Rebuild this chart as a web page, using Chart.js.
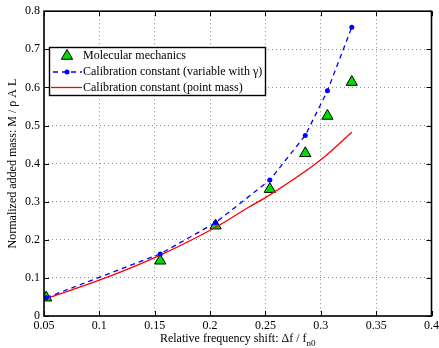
<!DOCTYPE html>
<html>
<head>
<meta charset="utf-8">
<script src="https://cdn.jsdelivr.net/npm/chart.js@4.4.0/dist/chart.umd.min.js"></script>
<style>
  html, body { margin: 0; padding: 0; background: #fff; }
  #wrap { width: 439px; height: 348px; position: relative; }
</style>
</head>
<body>
<div id="wrap"><canvas id="chart"></canvas></div>
<script>
// ── datos ──
const xTicks = [0.05, 0.1, 0.15, 0.2, 0.25, 0.3, 0.35, 0.4];
const yTicks = [0, 0.1, 0.2, 0.3, 0.4, 0.5, 0.6, 0.7, 0.8];

const mmX = [0.052, 0.155, 0.205, 0.254, 0.286, 0.306, 0.328];
const mmY = [0.048, 0.145, 0.237, 0.333, 0.427, 0.525, 0.614];

const varX = [0.052, 0.155, 0.205, 0.254, 0.286, 0.306, 0.328];
const varY = [0.048, 0.163, 0.245, 0.357, 0.474, 0.591, 0.758];

const pmX = [0.052, 0.1, 0.155, 0.205, 0.234, 0.254, 0.3, 0.328];
const pmY = [0.046, 0.094, 0.16, 0.233, 0.284, 0.318, 0.41, 0.482];

const labels = [
  'Molecular mechanics',
  'Calibration constant (variable with \u03b3)',
  'Calibration constant (point mass)'
];

const FONT = "'Liberation Serif', 'DejaVu Serif', serif";
const GREEN = '#00dd00';
const BLUE = '#0000ff';
const RED = '#ff0000';

const toPts = (xs, ys) => xs.map((x, i) => ({ x, y: ys[i] }));
const fmt = v => String(+v.toFixed(2));

// Marco, ticks interiores, leyenda y titulos de ejes
const decor = {
  id: 'decor',
  afterDatasetsDraw(chart) {
    const { ctx, chartArea: a, scales } = chart;
    ctx.save();
    ctx.strokeStyle = '#000';
    ctx.lineWidth = 1;
    const tl = 5;
    xTicks.forEach(v => {
      const px = Math.round(scales.x.getPixelForValue(v)) + 0.5;
      ctx.beginPath();
      ctx.moveTo(px, a.bottom); ctx.lineTo(px, a.bottom - tl);
      ctx.moveTo(px, a.top); ctx.lineTo(px, a.top + tl);
      ctx.stroke();
    });
    yTicks.forEach(v => {
      const py = Math.round(scales.y.getPixelForValue(v)) + 0.5;
      ctx.beginPath();
      ctx.moveTo(a.left, py); ctx.lineTo(a.left + tl, py);
      ctx.moveTo(a.right, py); ctx.lineTo(a.right - tl, py);
      ctx.stroke();
    });
    ctx.lineWidth = 1.6;
    ctx.strokeRect(a.left, a.top, a.right - a.left, a.bottom - a.top);

    // leyenda
    const lx = 49.5, ly = 47.5, lw = 216, lh = 48;
    ctx.fillStyle = '#fff';
    ctx.fillRect(lx, ly, lw, lh);
    ctx.lineWidth = 1.4;
    ctx.strokeRect(lx, ly, lw, lh);
    const rows = [56, 72, 87.5];
    const tx = 83;
    // triangulo
    const r = 6.5;
    ctx.beginPath();
    ctx.moveTo(67, rows[0] - r);
    ctx.lineTo(67 + r * 0.866, rows[0] + r * 0.5);
    ctx.lineTo(67 - r * 0.866, rows[0] + r * 0.5);
    ctx.closePath();
    ctx.fillStyle = GREEN; ctx.fill();
    ctx.lineWidth = 1; ctx.strokeStyle = '#000'; ctx.stroke();
    // linea azul discontinua
    ctx.strokeStyle = BLUE; ctx.lineWidth = 1.3;
    ctx.setLineDash([5, 4]);
    ctx.beginPath(); ctx.moveTo(53, rows[1]); ctx.lineTo(82, rows[1]); ctx.stroke();
    ctx.setLineDash([]);
    ctx.fillStyle = BLUE;
    ctx.beginPath(); ctx.arc(67, rows[1], 2.5, 0, Math.PI * 2); ctx.fill();
    // linea roja
    ctx.strokeStyle = RED; ctx.lineWidth = 1.3;
    ctx.beginPath(); ctx.moveTo(51, rows[2]); ctx.lineTo(82, rows[2]); ctx.stroke();

    ctx.fillStyle = '#000';
    ctx.font = '12px ' + FONT;
    ctx.textBaseline = 'middle';
    ctx.textAlign = 'left';
    labels.forEach((t, i) => ctx.fillText(t, tx, rows[i]));

    // titulo eje x con subindice
    const cx = (a.left + a.right) / 2;
    const main = 'Relative frequency shift: \u0394f / f';
    ctx.font = '12px ' + FONT;
    const w1 = ctx.measureText(main).width;
    ctx.font = '9px ' + FONT;
    const w2 = ctx.measureText('n0').width;
    let x0 = cx - (w1 + w2) / 2;
    ctx.textBaseline = 'alphabetic';
    ctx.font = '12px ' + FONT;
    ctx.fillText(main, x0, 342);
    ctx.font = '9px ' + FONT;
    ctx.fillText('n0', x0 + w1, 346);

    // titulo eje y
    ctx.translate(13, (a.top + a.bottom) / 2);
    ctx.rotate(-Math.PI / 2);
    ctx.font = '12px ' + FONT;
    ctx.textAlign = 'center';
    ctx.textBaseline = 'middle';
    ctx.fillText('Normalized added mass: M / \u03c1 A L', 0, 0);
    ctx.restore();
  }
};

new Chart(document.getElementById('chart'), {
  type: 'scatter',
  data: {
    datasets: [
      {
        label: labels[0],
        data: toPts(mmX, mmY),
        showLine: false,
        pointStyle: 'triangle',
        pointRadius: 6.5,
        backgroundColor: GREEN,
        borderColor: '#000',
        borderWidth: 1,
        order: 3
      },
      {
        label: labels[1],
        data: toPts(varX, varY),
        showLine: true,
        borderColor: BLUE,
        borderWidth: 1.3,
        borderDash: [5, 4],
        pointRadius: 2.5,
        pointBackgroundColor: BLUE,
        pointBorderWidth: 0,
        order: 1
      },
      {
        label: labels[2],
        data: toPts(pmX, pmY),
        showLine: true,
        borderColor: RED,
        borderWidth: 1.3,
        pointRadius: 0,
        cubicInterpolationMode: 'monotone',
        order: 2
      }
    ]
  },
  options: {
    responsive: true,
    maintainAspectRatio: false,
    animation: false,
    layout: { padding: { left: 0, top: 11, right: 7, bottom: 0 } },
    plugins: { legend: { display: false }, tooltip: { enabled: false } },
    scales: {
      x: {
        type: 'linear',
        min: 0.05, max: 0.4,
        afterBuildTicks: s => { s.ticks = xTicks.map(v => ({ value: v })); },
        afterFit: s => { s.height = 32; s.paddingLeft = 0; s.paddingRight = 0; },
        ticks: {
          color: '#000', padding: 3, maxRotation: 0, autoSkip: false,
          font: { family: FONT, size: 12 },
          callback: v => fmt(v)
        },
        grid: { color: '#8a8a8a', lineWidth: 1, drawTicks: false },
        border: { display: false, dash: [1, 3] }
      },
      y: {
        type: 'linear',
        min: 0, max: 0.8,
        afterBuildTicks: s => { s.ticks = yTicks.map(v => ({ value: v })); },
        afterFit: s => { s.width = 44; },
        ticks: {
          color: '#000', padding: 4,
          font: { family: FONT, size: 12 },
          callback: v => fmt(v)
        },
        grid: { color: '#8a8a8a', lineWidth: 1, drawTicks: false },
        border: { display: false, dash: [1, 3] }
      }
    }
  },
  plugins: [decor]
});
</script>
</body>
</html>
